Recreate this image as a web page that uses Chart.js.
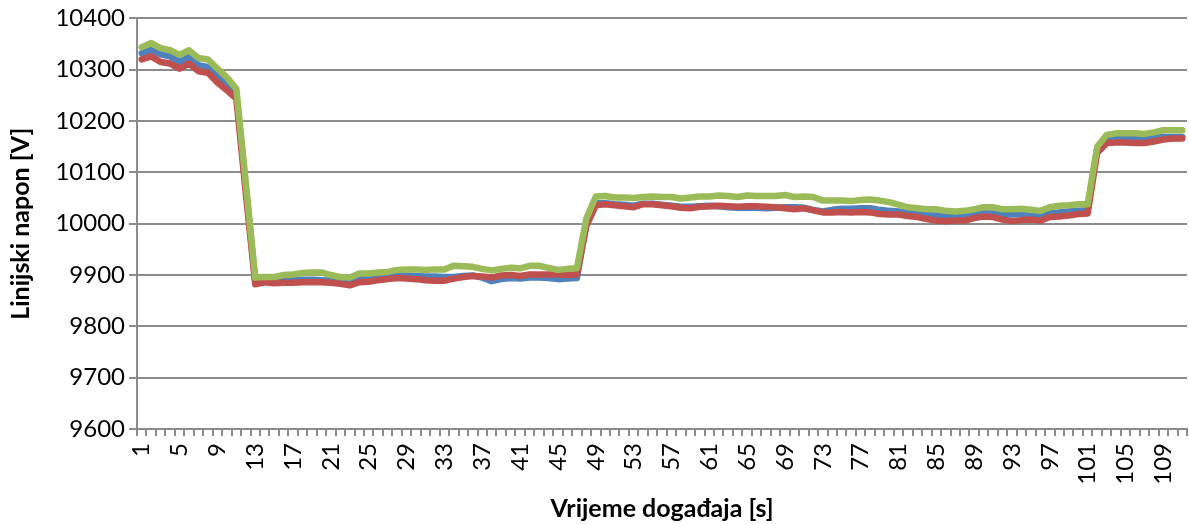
<!DOCTYPE html>
<html>
<head>
<meta charset="utf-8">
<script src="https://cdn.jsdelivr.net/npm/chart.js@4"></script>
<style>
  html, body { margin: 0; padding: 0; background: #ffffff; }
  #wrap { width: 1189px; height: 524px; }
</style>
</head>
<body>
<div id="wrap"><canvas id="c" width="1189" height="524"></canvas></div>
<script>
// Event time index, 1..111 seconds
const categories = [];
for (let i = 1; i <= 111; i++) categories.push(String(i));

// Line voltage per phase [V]
const blueValues = [
  10332, 10339, 10330, 10326, 10315, 10325, 10309, 10305, 10287, 10272,
  10252, 10070, 9887, 9890, 9889, 9890, 9890, 9891, 9891, 9890,
  9889, 9887, 9885, 9892, 9894, 9895, 9896, 9898, 9899, 9898,
  9897, 9897, 9896, 9896, 9898, 9899, 9895, 9888, 9892, 9894,
  9893, 9895, 9895, 9894, 9892, 9893, 9894, 10000, 10040, 10040,
  10038, 10037, 10035, 10039, 10039, 10037, 10035, 10033, 10033, 10034,
  10035, 10034, 10032, 10031, 10031, 10031, 10030, 10031, 10032, 10032,
  10031, 10027, 10024, 10027, 10029, 10029, 10030, 10030, 10027, 10025,
  10024, 10021, 10019, 10017, 10016, 10015, 10015, 10016, 10019, 10021,
  10020, 10018, 10018, 10019, 10020, 10017, 10020, 10022, 10024, 10025,
  10026, 10145, 10165, 10166, 10166, 10165, 10165, 10167, 10169, 10169,
  10169
];

const redValues = [
  10320, 10326, 10315, 10312, 10302, 10312, 10297, 10294, 10275, 10260,
  10244, 10060, 9882, 9886, 9884, 9885, 9885, 9886, 9886, 9886,
  9885, 9883, 9880, 9886, 9887, 9890, 9892, 9894, 9893, 9892,
  9890, 9889, 9889, 9893, 9896, 9898, 9897, 9895, 9899, 9900,
  9898, 9901, 9901, 9901, 9901, 9900, 9901, 9995, 10036, 10038,
  10036, 10034, 10032, 10038, 10038, 10036, 10034, 10031, 10030, 10033,
  10034, 10035, 10034, 10033, 10034, 10034, 10033, 10032, 10030, 10028,
  10030, 10026, 10022, 10022, 10023, 10022, 10023, 10022, 10019, 10018,
  10018, 10015, 10013, 10009, 10006, 10005, 10006, 10006, 10011, 10014,
  10013, 10008, 10005, 10007, 10008, 10006, 10013, 10014, 10016, 10019,
  10020, 10138, 10157, 10158, 10158, 10157, 10157, 10160, 10164, 10166,
  10166
];

const greenValues = [
  10344, 10352, 10342, 10338, 10329, 10338, 10323, 10320, 10302, 10285,
  10263, 10080, 9895, 9896, 9896, 9900, 9901, 9904, 9905, 9905,
  9900, 9896, 9895, 9903, 9903, 9905, 9906, 9910, 9911, 9911,
  9910, 9911, 9911, 9918, 9917, 9916, 9912, 9909, 9912, 9914,
  9913, 9918, 9918, 9914, 9910, 9912, 9913, 10010, 10053, 10054,
  10051, 10051, 10050, 10052, 10053, 10052, 10052, 10049, 10051, 10053,
  10053, 10055, 10054, 10052, 10055, 10054, 10054, 10054, 10056, 10052,
  10053, 10052, 10045, 10045, 10045, 10044, 10046, 10047, 10045, 10042,
  10037, 10032, 10030, 10028, 10028, 10025, 10024, 10025, 10028, 10032,
  10032, 10028, 10028, 10029, 10027, 10025, 10032, 10035, 10036, 10038,
  10038, 10150, 10173, 10176, 10176, 10176, 10175, 10178, 10182, 10182,
  10182
];

// Value axis range and step
const yMin = 9600;
const yMax = 10400;
const yStep = 100;

// Axis titles
const xTitle = 'Vrijeme događaja [s]';
const yTitle = 'Linijski napon [V]';

const gridGray = '#8c8c8c';
const fontFamily = 'Lato, "Open Sans", sans-serif';

function series(data, color, order) {
  return {
    data: data,
    borderColor: color,
    backgroundColor: color,
    borderWidth: 6.5,
    pointRadius: 0,
    pointHoverRadius: 0,
    tension: 0,
    borderJoinStyle: 'round',
    borderCapStyle: 'round',
    fill: false,
    order: order
  };
}

new Chart(document.getElementById('c'), {
  type: 'line',
  data: {
    labels: categories,
    datasets: [
      series(blueValues, '#4f81bd', 3),
      series(redValues, '#c0504d', 2),
      series(greenValues, '#9bbb59', 1)
    ]
  },
  options: {
    responsive: false,
    animation: false,
    devicePixelRatio: 1,
    layout: { padding: { top: 18, right: 2, bottom: 0, left: 0 } },
    plugins: { legend: { display: false }, tooltip: { enabled: false } },
    scales: {
      x: {
        type: 'category',
        offset: true,
        grid: {
          offset: true,
          drawOnChartArea: false,
          drawTicks: true,
          tickLength: 7,
          color: gridGray,
          lineWidth: 2
        },
        border: { display: true, color: gridGray, width: 2 },
        ticks: {
          autoSkip: false,
          maxRotation: 90,
          minRotation: 90,
          padding: 7,
          color: '#000000',
          font: { family: fontFamily, size: 24 },
          callback: function (value, index) {
            return index % 4 === 0 ? categories[index] : '';
          }
        },
        title: {
          display: true,
          text: xTitle,
          color: '#000000',
          font: { family: fontFamily, size: 25, weight: 'bold' },
          padding: { top: 0, bottom: 0 }
        },
        afterFit: function (scale) {
          scale.height = 95;
          scale.paddingLeft = 0;
          scale.paddingRight = 0;
        }
      },
      y: {
        min: yMin,
        max: yMax,
        grid: {
          color: gridGray,
          lineWidth: 2,
          tickLength: 8,
          drawTicks: true
        },
        border: { display: true, color: gridGray, width: 2 },
        ticks: {
          stepSize: yStep,
          padding: 4,
          color: '#000000',
          font: { family: fontFamily, size: 24 },
          callback: function (value) { return String(value); }
        },
        title: {
          display: true,
          text: yTitle,
          color: '#000000',
          font: { family: fontFamily, size: 25, weight: 'bold' },
          padding: { top: 6, bottom: 0 }
        },
        afterFit: function (scale) { scale.width = 137; }
      }
    }
  }
});
</script>
</body>
</html>
